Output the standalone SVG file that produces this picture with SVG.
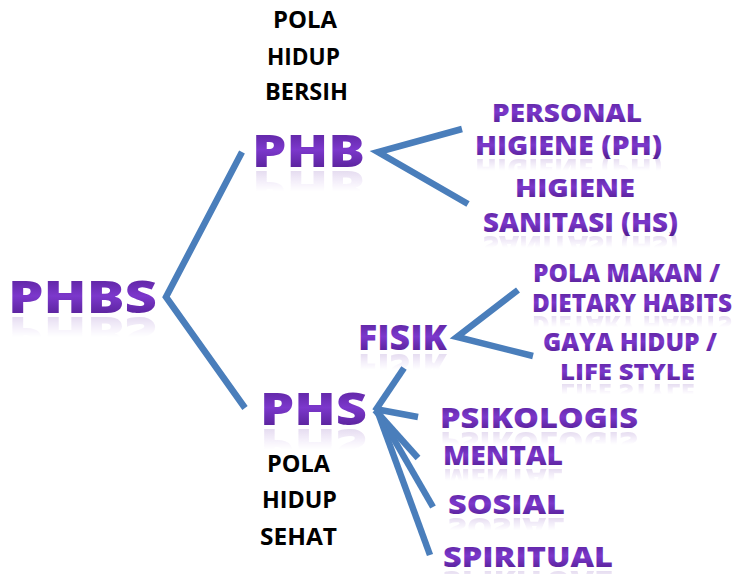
<svg xmlns="http://www.w3.org/2000/svg" xmlns:xlink="http://www.w3.org/1999/xlink" width="734" height="574" viewBox="0 0 734 574">
  <defs>
    <!-- purple word-art fill: dark edges, brighter band in the middle -->
    <linearGradient id="purple" x1="0" y1="0" x2="0" y2="1">
      <stop offset="0" stop-color="#4a1886"/>
      <stop offset="0.5" stop-color="#7c38cc"/>
      <stop offset="1" stop-color="#461680"/>
    </linearGradient>
    <!-- fading mask for mirrored reflections (local coords, flipped) -->
    <linearGradient id="fade" x1="0" y1="0" x2="0" y2="1">
      <stop offset="0.45" stop-color="#fff" stop-opacity="0"/>
      <stop offset="1" stop-color="#fff" stop-opacity="0.26"/>
    </linearGradient>
    <mask id="reflect" maskContentUnits="objectBoundingBox" x="-0.1" y="-0.1" width="1.2" height="1.2">
      <rect x="0" y="0" width="1" height="1" fill="url(#fade)"/>
    </mask>
    <style>
      .w { font-family: "Open Sans", "Liberation Sans", sans-serif; font-weight: 800; fill: url(#purple); }
      .k { font-family: "Open Sans", "Liberation Sans", sans-serif; font-weight: 700; fill: #000; font-size: 23px; }
      .r { mask: url(#reflect); }
      .ln { stroke: #4a7ebb; stroke-width: 6.5; stroke-linecap: butt; stroke-linejoin: miter; fill: none; }
    </style>
  </defs>

  <rect width="734" height="574" fill="#fff"/>

  <!-- connectors -->
  <g id="connectors">
    <polyline class="ln" points="242,152 166,297 245,408"/>
    <polyline class="ln" points="462,129 378,152 468,204"/>
    <polyline class="ln" points="518,290 457,337 533,356"/>
    <line class="ln" x1="404" y1="368" x2="375" y2="411"/>
    <line class="ln" x1="375" y1="409" x2="418" y2="417"/>
    <line class="ln" x1="375" y1="410" x2="418" y2="458"/>
    <line class="ln" x1="377" y1="410" x2="433" y2="507"/>
    <line class="ln" x1="377" y1="410" x2="430" y2="555"/>
  </g>

  <!-- root -->
  <g id="node-phbs">
    <text id="t-phbs" class="w" x="8" y="313" font-size="44" textLength="149" lengthAdjust="spacingAndGlyphs">PHBS</text>
    <use xlink:href="#t-phbs" class="r" transform="translate(0,630) scale(1,-1)"/>
  </g>

  <!-- clean living branch -->
  <g id="node-phb">
    <text id="t-phb" class="w" x="252" y="167" font-size="45" textLength="113" lengthAdjust="spacingAndGlyphs">PHB</text>
    <use xlink:href="#t-phb" class="r" transform="translate(0,338) scale(1,-1)"/>
    <text class="k" x="273" y="28" textLength="64" lengthAdjust="spacingAndGlyphs">POLA</text>
    <text class="k" x="267" y="65" textLength="73" lengthAdjust="spacingAndGlyphs">HIDUP</text>
    <text class="k" x="265" y="100" textLength="83" lengthAdjust="spacingAndGlyphs">BERSIH</text>
  </g>

  <g id="node-ph">
    <text id="t-ph1" class="w" x="492" y="122" font-size="25" textLength="150" lengthAdjust="spacingAndGlyphs">PERSONAL</text>
    <text id="t-ph2" class="w" x="475" y="155" font-size="26" textLength="187" lengthAdjust="spacingAndGlyphs">HIGIENE (PH)</text>
    <use xlink:href="#t-ph2" class="r" transform="translate(0,314) scale(1,-1)"/>
  </g>

  <g id="node-hs">
    <text id="t-hs1" class="w" x="515" y="197" font-size="25" textLength="120" lengthAdjust="spacingAndGlyphs">HIGIENE</text>
    <text id="t-hs2" class="w" x="483" y="232" font-size="26" textLength="195" lengthAdjust="spacingAndGlyphs">SANITASI (HS)</text>
    <use xlink:href="#t-hs2" class="r" transform="translate(0,468) scale(1,-1)"/>
  </g>

  <!-- healthy living branch -->
  <g id="node-phs">
    <text id="t-phs" class="w" x="260" y="425" font-size="45" textLength="107" lengthAdjust="spacingAndGlyphs">PHS</text>
    <use xlink:href="#t-phs" class="r" transform="translate(0,854) scale(1,-1)"/>
    <text class="k" x="267" y="472" textLength="63" lengthAdjust="spacingAndGlyphs">POLA</text>
    <text class="k" x="262" y="508" textLength="75" lengthAdjust="spacingAndGlyphs">HIDUP</text>
    <text class="k" x="260" y="545" textLength="77" lengthAdjust="spacingAndGlyphs">SEHAT</text>
  </g>

  <g id="node-fisik">
    <text id="t-fisik" class="w" x="358" y="350" font-size="35" textLength="89" lengthAdjust="spacingAndGlyphs">FISIK</text>
    <use xlink:href="#t-fisik" class="r" transform="translate(0,704) scale(1,-1)"/>
  </g>

  <g id="node-diet">
    <text class="w" x="533" y="282" font-size="24" textLength="187" lengthAdjust="spacingAndGlyphs">POLA MAKAN /</text>
    <text id="t-diet" class="w" x="532" y="312" font-size="24" textLength="200" lengthAdjust="spacingAndGlyphs">DIETARY HABITS</text>
    <use xlink:href="#t-diet" class="r" transform="translate(0,628) scale(1,-1)"/>
  </g>

  <g id="node-life">
    <text class="w" x="543" y="351" font-size="24" textLength="174" lengthAdjust="spacingAndGlyphs">GAYA HIDUP /</text>
    <text id="t-life" class="w" x="560" y="380" font-size="23" textLength="135" lengthAdjust="spacingAndGlyphs">LIFE STYLE</text>
    <use xlink:href="#t-life" class="r" transform="translate(0,764) scale(1,-1)"/>
  </g>

  <g id="node-psikologis">
    <text id="t-psi" class="w" x="440" y="428" font-size="28" textLength="198" lengthAdjust="spacingAndGlyphs">PSIKOLOGIS</text>
    <use xlink:href="#t-psi" class="r" transform="translate(0,860) scale(1,-1)"/>
  </g>

  <g id="node-mental">
    <text id="t-men" class="w" x="443" y="465" font-size="26" textLength="120" lengthAdjust="spacingAndGlyphs">MENTAL</text>
    <use xlink:href="#t-men" class="r" transform="translate(0,934) scale(1,-1)"/>
  </g>

  <g id="node-sosial">
    <text id="t-sos" class="w" x="448" y="514" font-size="27" textLength="117" lengthAdjust="spacingAndGlyphs">SOSIAL</text>
    <use xlink:href="#t-sos" class="r" transform="translate(0,1032) scale(1,-1)"/>
  </g>

  <g id="node-spiritual">
    <text id="t-spi" class="w" x="443" y="567" font-size="28" textLength="170" lengthAdjust="spacingAndGlyphs">SPIRITUAL</text>
    <use xlink:href="#t-spi" class="r" transform="translate(0,1138) scale(1,-1)"/>
  </g>
</svg>
